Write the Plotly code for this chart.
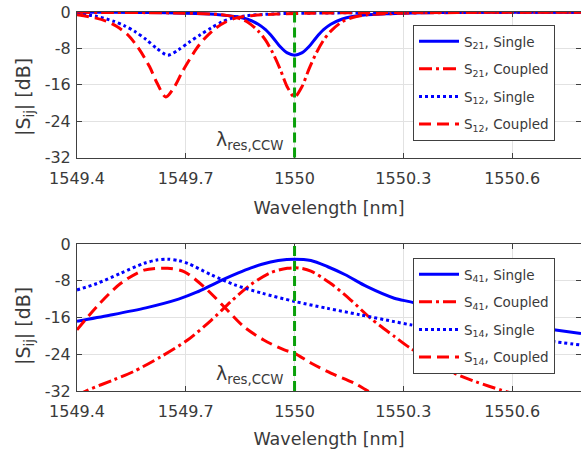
import plotly.graph_objects as go

# ---------------- data ----------------
# Top panel: transmission dips
s21_single_wl = [1549.40, 1549.50, 1549.60, 1549.70, 1549.75, 1549.80, 1549.84, 1549.87, 1549.90,
                 1549.92, 1549.94, 1549.96, 1549.98, 1550.00, 1550.02, 1550.04, 1550.06, 1550.08,
                 1550.10, 1550.13, 1550.16, 1550.20, 1550.25, 1550.30, 1550.40, 1550.50, 1550.60, 1550.79]
s21_single_db = [-0.05, -0.08, -0.12, -0.25, -0.4, -0.65, -1.05, -1.6, -2.7,
                 -3.9, -5.6, -7.6, -9.0, -9.5, -9.0, -7.6, -5.6, -3.9,
                 -2.7, -1.6, -1.0, -0.6, -0.4, -0.25, -0.12, -0.08, -0.05, -0.03]

s21_coupled_wl = s21_single_wl
s21_coupled_db = [-0.08, -0.1, -0.15, -0.25, -0.4, -0.6, -1.2, -2.2, -4.2,
                  -6.2, -9.0, -12.5, -16.5, -18.7, -16.5, -12.5, -9.0, -6.2,
                  -4.2, -2.2, -1.2, -0.6, -0.4, -0.25, -0.15, -0.1, -0.08, -0.05]

s12_single_wl = [1549.40, 1549.45, 1549.50, 1549.53, 1549.56, 1549.59, 1549.62, 1549.65, 1549.68,
                 1549.71, 1549.74, 1549.77, 1549.80, 1549.83, 1549.87, 1549.92, 1550.00, 1550.20,
                 1550.50, 1550.79]
s12_single_db = [-0.5, -0.9, -2.0, -3.0, -4.3, -6.0, -8.0, -9.5, -8.3,
                 -6.6, -5.0, -3.5, -2.2, -1.3, -0.8, -0.5, -0.3, -0.15,
                 -0.08, -0.05]

s12_coupled_wl = [1549.40, 1549.45, 1549.48, 1549.51, 1549.54, 1549.57, 1549.60, 1549.62, 1549.645,
                  1549.67, 1549.69, 1549.71, 1549.73, 1549.75, 1549.78, 1549.81, 1549.84, 1549.88,
                  1549.95, 1550.05, 1550.30, 1550.79]
s12_coupled_db = [-0.6, -1.3, -2.0, -3.2, -5.0, -8.0, -12.0, -15.5, -18.7,
                  -16.3, -13.2, -10.5, -8.0, -6.0, -3.7, -2.2, -1.3, -0.8,
                  -0.45, -0.25, -0.12, -0.05]

# Bottom panel: drop-port peaks
s41_single_wl = [1549.40, 1549.49, 1549.59, 1549.68, 1549.73, 1549.77, 1549.81, 1549.845, 1549.88,
                 1549.91, 1549.955, 1550.00, 1550.045, 1550.09, 1550.14, 1550.20, 1550.275, 1550.32,
                 1550.40, 1550.50, 1550.60, 1550.70, 1550.79]
s41_single_db = [-16.8, -15.5, -13.9, -12.0, -10.5, -9.0, -7.5, -6.3, -5.2,
                 -4.4, -3.6, -3.3, -3.6, -4.9, -6.7, -9.3, -11.8, -12.6,
                 -14.2, -15.9, -17.3, -18.5, -19.5]

s41_coupled_wl = [1549.40, 1549.43, 1549.50, 1549.555, 1549.63, 1549.705, 1549.77, 1549.825, 1549.88,
                  1549.935, 1549.98, 1550.01, 1550.045, 1550.10, 1550.155, 1550.21, 1550.275, 1550.32,
                  1550.40, 1550.445, 1550.50, 1550.57, 1550.65, 1550.79]
s41_coupled_db = [-33.0, -31.8, -29.6, -27.8, -24.6, -20.9, -16.6, -12.5, -8.8,
                  -6.2, -5.3, -5.2, -5.9, -8.6, -12.2, -16.2, -20.1, -22.7,
                  -26.3, -28.3, -30.0, -31.8, -33.6, -36.0]

s14_single_wl = [1549.40, 1549.455, 1549.52, 1549.585, 1549.62, 1549.65, 1549.68, 1549.705, 1549.77,
                 1549.835, 1549.91, 1550.00, 1550.09, 1550.18, 1550.275, 1550.32, 1550.40, 1550.50,
                 1550.60, 1550.70, 1550.79]
s14_single_db = [-10.0, -8.6, -6.4, -4.2, -3.5, -3.3, -3.6, -4.2, -6.7,
                 -8.9, -10.7, -12.5, -14.0, -15.4, -16.9, -17.6, -18.5, -19.4,
                 -20.2, -21.1, -22.0]

s14_coupled_wl = [1549.40, 1549.455, 1549.52, 1549.585, 1549.65, 1549.695, 1549.75, 1549.805, 1549.86,
                  1549.915, 1549.97, 1550.00, 1550.045, 1550.10, 1550.165, 1550.205, 1550.25, 1550.30]
s14_coupled_db = [-18.7, -13.6, -8.6, -5.7, -5.3, -6.0, -9.3, -13.6, -18.0,
                  -20.9, -23.0, -23.8, -25.9, -28.1, -30.3, -32.1, -33.5, -34.5]

resonance_wl = 1550.0
x_ticks = [1549.4, 1549.7, 1550.0, 1550.3, 1550.6]
x_tick_labels = ["1549.4", "1549.7", "1550", "1550.3", "1550.6"]
y_ticks = [-32, -24, -16, -8, 0]
y_tick_labels = ["-32", "-24", "-16", "-8", "0"]

# ---------------- styling ----------------
BLUE = "rgb(0,0,255)"
RED = "rgb(255,0,0)"
GREEN = "rgb(10,160,10)"
FONT = "DejaVu Sans"
TXT = "#3a3a3a"
LW = 3

fig = go.Figure()

def add(x, y, name, color, dash, xa, ya, legend):
    fig.add_trace(go.Scatter(x=x, y=y, mode="lines", name=name,
                             line=dict(color=color, width=LW, dash=dash, shape="spline", smoothing=0.8),
                             xaxis=xa, yaxis=ya, legend=legend, legendgroup=name + xa))

DOT = "dot"
DASH = "12px,6px"
DASHDOT = "13px,4px,3px,4px"

add(s21_single_wl, s21_single_db, "S<sub>21</sub>, Single", BLUE, "solid", "x", "y", "legend")
add(s21_coupled_wl, s21_coupled_db, "S<sub>21</sub>, Coupled", RED, DASHDOT, "x", "y", "legend")
add(s12_single_wl, s12_single_db, "S<sub>12</sub>, Single", BLUE, DOT, "x", "y", "legend")
add(s12_coupled_wl, s12_coupled_db, "S<sub>12</sub>, Coupled", RED, DASH, "x", "y", "legend")

add(s41_single_wl, s41_single_db, "S<sub>41</sub>, Single", BLUE, "solid", "x2", "y2", "legend2")
add(s41_coupled_wl, s41_coupled_db, "S<sub>41</sub>, Coupled", RED, DASHDOT, "x2", "y2", "legend2")
add(s14_single_wl, s14_single_db, "S<sub>14</sub>, Single", BLUE, DOT, "x2", "y2", "legend2")
add(s14_coupled_wl, s14_coupled_db, "S<sub>14</sub>, Coupled", RED, DASH, "x2", "y2", "legend2")

axis_common = dict(showline=True, linecolor="#404040", linewidth=1, mirror="ticks",
                   ticks="inside", ticklen=5, tickcolor="#404040", automargin=False,
                   showgrid=True, gridcolor="#e2e2e2", gridwidth=1, zeroline=False,
                   tickfont=dict(family=FONT, size=16, color=TXT))

xr = [1549.4, 1550.79]
yr = [-32, 0]

W, H = 581, 457
L, R, T, B = 77, 0, 12, 66
PW = W - L - R
PH = H - T - B

def ydom(top_px, bot_px):
    return [(H - B - bot_px) / PH, (H - B - top_px) / PH]

def px_x(px):
    return (px - L) / PW

def px_y(px):
    return (H - B - px) / PH

def xtitle(standoff):
    return dict(text="Wavelength [nm]", font=dict(family=FONT, size=17.5, color=TXT), standoff=standoff)

fig.update_layout(
    width=W, height=H,
    margin=dict(l=L, r=R, t=T, b=B, autoexpand=False),
    paper_bgcolor="white", plot_bgcolor="white",
    font=dict(family=FONT, color=TXT),
    xaxis=dict(axis_common, range=xr, domain=[0, 1], anchor="y",
               tickvals=x_ticks, ticktext=x_tick_labels, ticklabelstandoff=6, title=xtitle(15)),
    yaxis=dict(axis_common, range=yr, domain=ydom(12, 157.5), anchor="x",
               tickvals=y_ticks, ticktext=y_tick_labels, ticklabelstandoff=2),
    xaxis2=dict(axis_common, range=xr, domain=[0, 1], anchor="y2",
                tickvals=x_ticks, ticktext=x_tick_labels, ticklabelstandoff=6, title=xtitle(12)),
    yaxis2=dict(axis_common, range=yr, domain=ydom(244, 391), anchor="x2",
                tickvals=y_ticks, ticktext=y_tick_labels, ticklabelstandoff=2),
    legend=dict(x=px_x(413), y=px_y(25), xanchor="left", yanchor="top",
                bgcolor="white", bordercolor="#404040", borderwidth=1,
                font=dict(family=FONT, size=13.5, color=TXT), tracegroupgap=7, itemwidth=40),
    legend2=dict(x=px_x(413), y=px_y(258), xanchor="left", yanchor="top",
                 bgcolor="white", bordercolor="#404040", borderwidth=1,
                 font=dict(family=FONT, size=13.5, color=TXT), tracegroupgap=7, itemwidth=40),
    showlegend=True,
)

# y-axis titles placed explicitly (rotated)
for ycen in (97, 326):
    fig.add_annotation(x=px_x(24), y=px_y(ycen), xref="paper", yref="paper",
                       xanchor="center", yanchor="middle", textangle=-90,
                       text="|S<sub>ij</sub>| [dB]", showarrow=False,
                       font=dict(family=FONT, size=19, color=TXT))

for xa, ya in (("x", "y"), ("x2", "y2")):
    fig.add_shape(type="line", xref=xa, yref=ya + " domain", x0=resonance_wl, x1=resonance_wl,
                  y0=0, y1=1, line=dict(color=GREEN, width=3, dash="10px,5px"), layer="above")
    fig.add_annotation(x=1549.975, y=-28.3, xref=xa, yref=ya, xanchor="right", yanchor="middle",
                       text="λ<sub>res,CCW</sub>", showarrow=False,
                       font=dict(family=FONT, size=19, color=TXT))

fig.write_html("out.html", config={"displayModeBar": False},
               post_script="document.body.style.margin='0';")
